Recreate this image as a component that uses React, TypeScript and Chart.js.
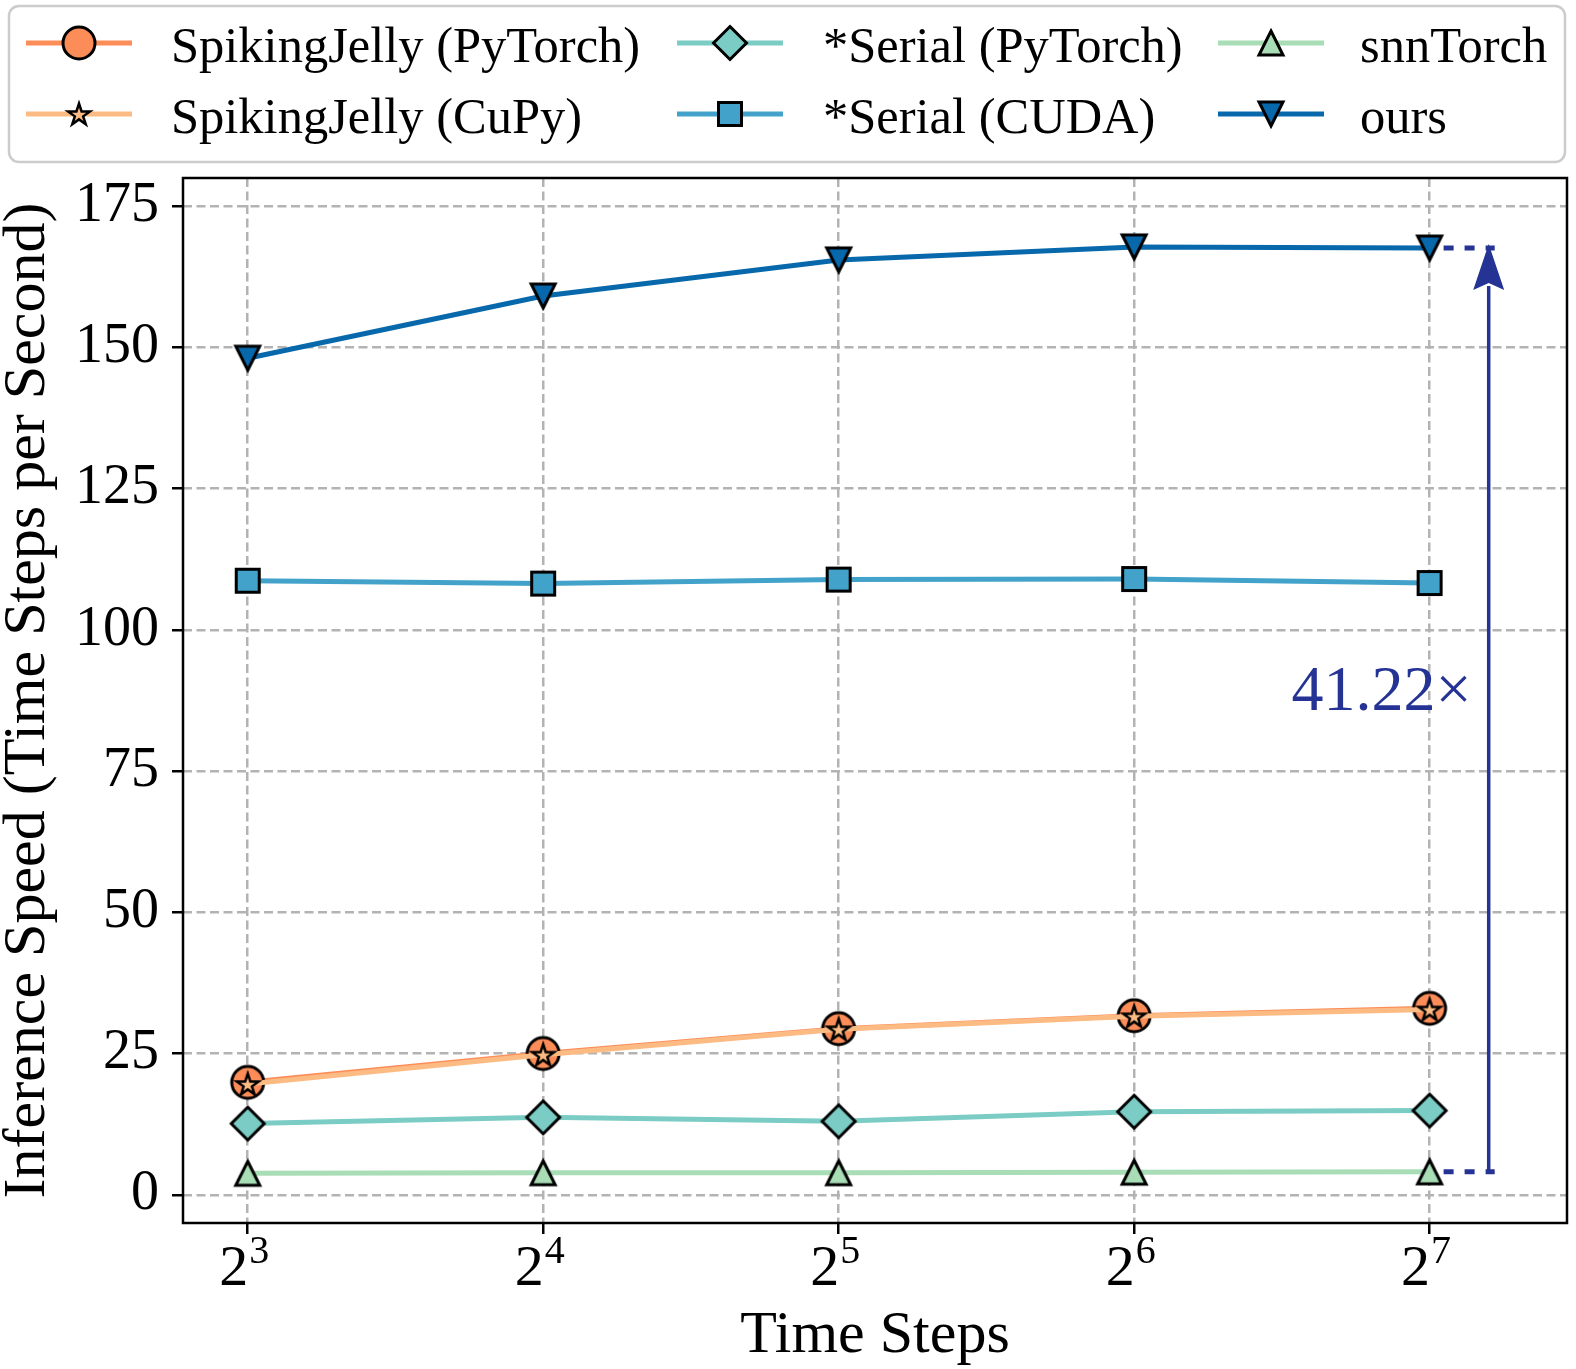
import React, { useEffect, useRef } from 'react';
import { Chart, registerables } from 'chart.js';

Chart.register(...registerables);

// ---------- data ----------
const timeStepExponents = [3, 4, 5, 6, 7];
const xTickBase = '2';
const yTickValues = [0, 25, 50, 75, 100, 125, 150, 175];

const sjPyTorch = [19.9, 25.0, 29.4, 31.7, 33.0];
const sjCuPy = [19.6, 24.8, 29.3, 31.6, 32.8];
const serialPyTorch = [12.6, 13.7, 13.0, 14.7, 14.9];
const serialCUDA = [108.7, 108.2, 108.9, 109.0, 108.3];
const snnTorch = [3.8, 3.9, 3.9, 4.0, 4.06];
const ours = [148.1, 159.1, 165.5, 167.8, 167.6];

const seriesLabels = [
  'SpikingJelly (PyTorch)',
  'SpikingJelly (CuPy)',
  '*Serial (PyTorch)',
  '*Serial (CUDA)',
  'snnTorch',
  'ours',
];
const xAxisTitle = 'Time Steps';
const yAxisTitle = 'Inference Speed (Time Steps per Second)';
const speedupLabel = '41.22×';

const xMin = 2.781;
const xMax = 7.465;
const yMin = -5;
const yMax = 180;
const arrowXValue = 7.2;
const speedupTextYValue = 85.8;

// ---------- styles ----------
const FONT = "'Liberation Serif', 'Times New Roman', 'DejaVu Serif', serif";
const colors = ['#fc8d59', '#fdbb84', '#7bccc4', '#43a2ca', '#a8ddb5', '#0868ac'];
const shapes = ['circle', 'star', 'diamond', 'square', 'triUp', 'triDown'];
const annColor = '#253494';

function makeMarker(shape: string, fill: string): HTMLCanvasElement {
  const c = document.createElement('canvas');
  c.width = 48;
  c.height = 48;
  const ctx = c.getContext('2d')!;
  ctx.translate(24, 24);
  ctx.fillStyle = fill;
  ctx.strokeStyle = '#000';
  ctx.lineWidth = 3;
  ctx.lineJoin = 'miter';
  ctx.beginPath();
  if (shape === 'circle') {
    ctx.arc(0, 0, 16, 0, Math.PI * 2);
  } else if (shape === 'star') {
    ctx.lineWidth = 2.5;
    const R = 11.5;
    const r = R * 0.381966;
    for (let i = 0; i < 10; i++) {
      const rad = i % 2 === 0 ? R : r;
      const a = -Math.PI / 2 + (i * Math.PI) / 5;
      const px = Math.cos(a) * rad;
      const py = Math.sin(a) * rad + 1;
      if (i === 0) ctx.moveTo(px, py);
      else ctx.lineTo(px, py);
    }
    ctx.closePath();
  } else if (shape === 'diamond') {
    const h = 16.5;
    ctx.moveTo(0, -h);
    ctx.lineTo(h, 0);
    ctx.lineTo(0, h);
    ctx.lineTo(-h, 0);
    ctx.closePath();
  } else if (shape === 'square') {
    const h = 11.5;
    ctx.rect(-h, -h, 2 * h, 2 * h);
  } else if (shape === 'triUp') {
    const h = 12;
    ctx.moveTo(0, -h);
    ctx.lineTo(h, h);
    ctx.lineTo(-h, h);
    ctx.closePath();
  } else if (shape === 'triDown') {
    const h = 12;
    ctx.moveTo(0, h);
    ctx.lineTo(h, -h);
    ctx.lineTo(-h, -h);
    ctx.closePath();
  }
  ctx.fill();
  ctx.stroke();
  return c;
}

export default function App() {
  const canvasRef = useRef<HTMLCanvasElement | null>(null);

  useEffect(() => {
    if (!canvasRef.current) return;
    const markers = shapes.map((s, i) => makeMarker(s, colors[i]));
    const seriesValues = [sjPyTorch, sjCuPy, serialPyTorch, serialCUDA, snnTorch, ours];

    const datasets = seriesValues.map((vals, i) => ({
      label: seriesLabels[i],
      data: vals.map((v, j) => ({ x: timeStepExponents[j], y: v })),
      borderColor: colors[i],
      backgroundColor: colors[i],
      borderWidth: 5,
      pointStyle: markers[i],
      pointRadius: 16,
      tension: 0,
      order: seriesValues.length - 1 - i,
    }));

    const customPlugin = {
      id: 'custom',
      afterDatasetsDraw(chart: any) {
        const { ctx, chartArea, scales } = chart;
        const xs = scales.x;
        const ys = scales.y;
        ctx.save();
        // frame
        ctx.strokeStyle = '#000';
        ctx.lineWidth = 2.5;
        ctx.strokeRect(chartArea.left, chartArea.top, chartArea.right - chartArea.left, chartArea.bottom - chartArea.top);

        // annotation
        const last = timeStepExponents.length - 1;
        const xLast = xs.getPixelForValue(timeStepExponents[last]);
        const ax = xs.getPixelForValue(arrowXValue);
        const yTop = ys.getPixelForValue(ours[last]);
        const yBot = ys.getPixelForValue(snnTorch[last]);
        ctx.strokeStyle = annColor;
        ctx.fillStyle = annColor;
        ctx.lineWidth = 5;
        ctx.setLineDash([10, 11]);
        [yTop, yBot].forEach((yy) => {
          ctx.beginPath();
          ctx.moveTo(xLast + 14, yy);
          ctx.lineTo(ax + 6, yy);
          ctx.stroke();
        });
        ctx.setLineDash([]);
        ctx.lineWidth = 3.5;
        const headLen = 46;
        const tipY = yTop - 4;
        ctx.beginPath();
        ctx.moveTo(ax, yBot + 2);
        ctx.lineTo(ax, tipY + headLen - 4);
        ctx.stroke();
        ctx.beginPath();
        ctx.moveTo(ax, tipY);
        ctx.lineTo(ax + 15.5, tipY + headLen);
        ctx.lineTo(ax, tipY + headLen - 7);
        ctx.lineTo(ax - 15.5, tipY + headLen);
        ctx.closePath();
        ctx.fill();

        ctx.font = `64px ${FONT}`;
        ctx.textAlign = 'right';
        ctx.textBaseline = 'alphabetic';
        ctx.fillText(speedupLabel, ax - 17, ys.getPixelForValue(speedupTextYValue));

        // x tick labels with superscripts
        ctx.fillStyle = '#000';
        ctx.textAlign = 'left';
        timeStepExponents.forEach((e) => {
          const px = xs.getPixelForValue(e);
          ctx.font = `58px ${FONT}`;
          const wb = ctx.measureText(xTickBase).width;
          ctx.font = `40px ${FONT}`;
          const ws = ctx.measureText(String(e)).width;
          const start = px - (wb + ws) / 2 - 4;
          ctx.font = `58px ${FONT}`;
          ctx.fillText(xTickBase, start, chartArea.bottom + 62);
          ctx.font = `40px ${FONT}`;
          ctx.fillText(String(e), start + wb + 1, chartArea.bottom + 40);
        });
        ctx.restore();
      },
      afterDraw(chart: any) {
        const { ctx } = chart;
        ctx.save();
        // legend box
        const bx = 9, by = 6, bw = 1556, bh = 156, br = 10;
        ctx.beginPath();
        ctx.moveTo(bx + br, by);
        ctx.lineTo(bx + bw - br, by);
        ctx.arcTo(bx + bw, by, bx + bw, by + br, br);
        ctx.lineTo(bx + bw, by + bh - br);
        ctx.arcTo(bx + bw, by + bh, bx + bw - br, by + bh, br);
        ctx.lineTo(bx + br, by + bh);
        ctx.arcTo(bx, by + bh, bx, by + bh - br, br);
        ctx.lineTo(bx, by + br);
        ctx.arcTo(bx, by, bx + br, by, br);
        ctx.closePath();
        ctx.fillStyle = 'rgba(255,255,255,0.9)';
        ctx.fill();
        ctx.strokeStyle = '#cccccc';
        ctx.lineWidth = 2.5;
        ctx.stroke();

        const colLineStart = [26, 677, 1218];
        const textX = [171, 823, 1360];
        const rowY = [43, 114];
        const lineLen = 106;
        ctx.font = `50.5px ${FONT}`;
        ctx.textAlign = 'left';
        ctx.textBaseline = 'alphabetic';
        seriesLabels.forEach((lab, i) => {
          const col = Math.floor(i / 2);
          const row = i % 2;
          const y = rowY[row];
          const x0 = colLineStart[col];
          ctx.strokeStyle = colors[i];
          ctx.lineWidth = 5;
          ctx.beginPath();
          ctx.moveTo(x0, y);
          ctx.lineTo(x0 + lineLen, y);
          ctx.stroke();
          const m = markers[i];
          ctx.drawImage(m, x0 + lineLen / 2 - m.width / 2, y - m.height / 2);
          ctx.fillStyle = '#000';
          ctx.fillText(lab, textX[col], y + 19);
        });
        ctx.restore();
      },
    };

    const chart = new Chart(canvasRef.current, {
      type: 'line',
      data: { datasets: datasets as any },
      plugins: [customPlugin],
      options: {
        animation: false,
        responsive: false,
        events: [],
        layout: { autoPadding: false, padding: { top: 178, right: 9, left: 0, bottom: 0 } },
        plugins: {
          legend: { display: false },
          tooltip: { enabled: false },
        },
        scales: {
          x: {
            type: 'linear',
            min: xMin,
            max: xMax,
            afterBuildTicks: (s: any) => {
              s.ticks = timeStepExponents.map((v) => ({ value: v }));
            },
            afterFit: (s: any) => {
              s.height = 146;
            },
            ticks: { display: false },
            grid: {
              color: '#b3b3b3',
              lineWidth: 2.5,
              drawTicks: true,
              tickLength: 11,
              tickColor: '#000',
              tickWidth: 2.5,
            },
            border: { display: false, dash: [9, 4.5] },
            title: {
              display: true,
              text: xAxisTitle,
              color: '#000',
              font: { family: FONT, size: 60, lineHeight: 1.0 },
              padding: { top: 0, bottom: 3 },
            },
          },
          y: {
            type: 'linear',
            min: yMin,
            max: yMax,
            afterBuildTicks: (s: any) => {
              s.ticks = yTickValues.map((v) => ({ value: v }));
            },
            afterFit: (s: any) => {
              s.width = 183;
            },
            ticks: {
              color: '#000',
              font: { family: FONT, size: 56 },
              padding: 13,
            },
            grid: {
              color: '#b3b3b3',
              lineWidth: 2.5,
              drawTicks: true,
              tickLength: 11,
              tickColor: '#000',
              tickWidth: 2.5,
            },
            border: { display: false, dash: [9, 4.5] },
            title: {
              display: true,
              text: yAxisTitle,
              color: '#000',
              font: { family: FONT, size: 60, lineHeight: 0.9 },
              padding: { top: 1, bottom: 0 },
            },
          },
        },
      },
    });
    return () => chart.destroy();
  }, []);

  return (
    <div style={{ position: 'absolute', left: 0, top: 0, width: 1576, height: 1369, background: '#fff' }}>
      <canvas ref={canvasRef} width={1576} height={1369} style={{ width: 1576, height: 1369, display: 'block' }} />
    </div>
  );
}
